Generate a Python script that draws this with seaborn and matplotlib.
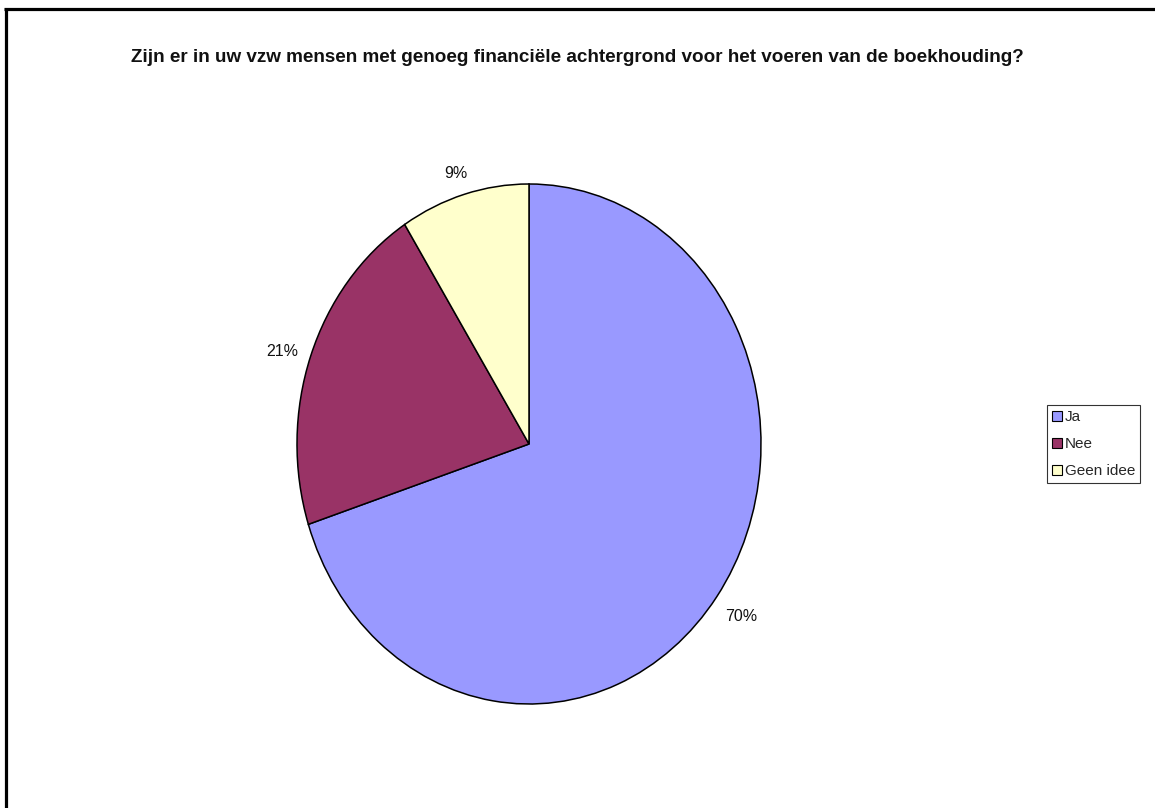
import matplotlib
matplotlib.use("Agg")
import numpy as np
import matplotlib.pyplot as plt
from matplotlib.patches import Patch
from matplotlib.lines import Line2D
import seaborn as sns

categories = ["Ja", "Nee", "Geen idee"]
shares = [70, 21, 9]
colors = ["#9999FF", "#993366", "#FFFFCC"]
title = "Zijn er in uw vzw mensen met genoeg financiële achtergrond voor het voeren van de boekhouding?"

sns.set_theme(style="white")
plt.rcParams["font.family"] = ["Liberation Sans", "DejaVu Sans"]

W, H = 1155, 808
fig = plt.figure(figsize=(W / 100, H / 100), dpi=100)
fig.patch.set_facecolor("white")

# Pie axes: centre (529, 444) px, half-width 232 px, half-height 260 px
cx, cy, rx, ry = 529, 444, 232, 260
ax = fig.add_axes([(cx - rx) / W, (H - cy - ry) / H, 2 * rx / W, 2 * ry / H])
wedges, texts, autotexts = ax.pie(
    shares,
    colors=colors,
    startangle=90,
    counterclock=False,
    autopct="%1.0f%%",
    pctdistance=1.1,
    radius=1.0,
    wedgeprops=dict(edgecolor="black", linewidth=1.1),
    textprops=dict(fontsize=11.5, color="#111111"),
)
ax.set_aspect("auto")
ax.set_xlim(-1, 1)
ax.set_ylim(-1, 1)
ax.axis("off")

# Place percentage labels just outside each wedge's midpoint on the ellipse
for w, t in zip(wedges, autotexts):
    mid = np.deg2rad((w.theta1 + w.theta2) / 2)
    t.set_position((1.13 * np.cos(mid), 1.1 * np.sin(mid) - 0.015))
    t.set_ha("center")
    t.set_va("center")

fig.text(577 / W, 1 - 58 / H, title, ha="center", va="center",
         fontsize=13.55, fontweight="bold", color="#111111")

handles = [Patch(facecolor=c, edgecolor="black", linewidth=0.8, label=l)
           for c, l in zip(colors, categories)]
leg = fig.legend(handles=handles, loc="center left",
                 bbox_to_anchor=(1047 / W, 1 - 444 / H),
                 frameon=True, fancybox=False, fontsize=11,
                 handlelength=0.65, handleheight=0.65, handletextpad=0.2,
                 labelspacing=0.85, borderpad=0.3, borderaxespad=0.0)
leg.get_frame().set_edgecolor("black")
leg.get_frame().set_linewidth(0.8)

# Outer frame on the left and top edges
fig.add_artist(Line2D([5.5 / W, 5.5 / W], [0, 1 - 7.5 / H], transform=fig.transFigure,
                      color="black", linewidth=2.3, solid_capstyle="butt"))
fig.add_artist(Line2D([4 / W, 1], [1 - 8.5 / H, 1 - 8.5 / H], transform=fig.transFigure,
                      color="black", linewidth=2.3, solid_capstyle="butt"))

fig.savefig("out.png", dpi=100, facecolor="white")
